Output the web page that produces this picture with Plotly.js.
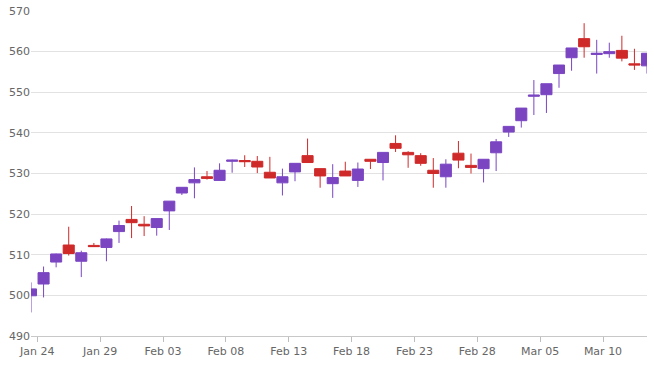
<!DOCTYPE html>
<html>
<head>
<meta charset="utf-8">
<script src="https://cdn.plot.ly/plotly-3.0.1.min.js"></script>
<style>html,body{margin:0;padding:0;background:#fff;}#chart{width:654px;height:369px;}</style>
</head>
<body>
<div id="chart"></div>
<script>
var dates = ["2017-01-23","2017-01-24","2017-01-25","2017-01-26","2017-01-27","2017-01-28","2017-01-29","2017-01-30","2017-01-31",
"2017-02-01","2017-02-02","2017-02-03","2017-02-04","2017-02-05","2017-02-06","2017-02-07","2017-02-08","2017-02-09","2017-02-10",
"2017-02-11","2017-02-12","2017-02-13","2017-02-14","2017-02-15","2017-02-16","2017-02-17","2017-02-18","2017-02-19","2017-02-20",
"2017-02-21","2017-02-22","2017-02-23","2017-02-24","2017-02-25","2017-02-26","2017-02-27","2017-02-28",
"2017-03-01","2017-03-02","2017-03-03","2017-03-04","2017-03-05","2017-03-06","2017-03-07","2017-03-08","2017-03-09","2017-03-10",
"2017-03-11","2017-03-12","2017-03-13"];
var openVals  = [499.9,502.8,508.2,512.4,508.4,512.3,511.8,515.7,518.7,517.5,516.7,520.8,525.2,527.7,529.2,528.3,533.0,533.2,533.0,530.3,
527.7,530.4,534.4,531.2,527.5,530.6,528.3,533.5,532.7,537.4,535.2,534.4,530.8,529.2,535.0,532.0,531.2,535.1,540.2,543.0,
549.0,549.4,554.6,558.5,563.2,559.3,559.5,560.3,557.0,556.5];
var highVals  = [503.2,507.1,510.3,516.9,511.0,512.9,514.0,518.4,522.0,519.5,519.0,523.2,526.6,531.5,530.6,532.5,533.4,534.5,534.3,534.1,
531.2,532.5,538.6,531.2,532.3,532.9,532.7,533.5,535.2,539.4,535.5,535.0,533.8,533.5,538.0,534.9,533.5,538.5,541.6,546.1,
553.0,552.1,556.7,560.9,567.0,562.9,562.2,563.9,560.7,559.6];
var lowVals   = [495.8,499.5,506.9,509.8,504.5,511.9,508.4,512.9,514.1,514.6,514.7,516.1,524.7,523.9,528.5,528.2,530.2,531.6,530.1,528.9,
524.6,528.1,532.7,526.5,524.0,529.4,526.7,531.1,528.3,535.3,531.4,531.9,526.5,526.5,531.3,530.0,527.8,530.6,539.0,541.3,
544.4,544.9,551.1,555.3,558.5,554.6,558.5,557.6,555.5,554.6];
var closeVals = [501.6,505.6,510.2,510.3,510.5,512.0,513.9,517.2,517.9,517.1,518.9,523.2,526.6,528.5,528.8,530.8,533.3,532.9,531.6,528.9,
529.2,532.5,532.7,529.4,529.0,529.4,531.1,533.0,535.2,536.2,534.6,532.5,530.0,532.3,533.3,531.5,533.5,537.8,541.6,546.1,
549.3,552.1,556.7,560.9,561.2,559.6,560.0,558.4,556.7,559.6];

var purple = "#7b45c2";
var red = "#cf2a2a";

var trace = {
  type: "candlestick",
  x: dates.map(function (d) { return d + " 12:00"; }),
  open: openVals, high: highVals, low: lowVals, close: closeVals,
  increasing: { line: { color: purple, width: 1 }, fillcolor: purple },
  decreasing: { line: { color: red, width: 1 }, fillcolor: red },
  whiskerwidth: 0,
  hoverinfo: "skip"
};

var tickFont = { family: "DejaVu Sans, Verdana, sans-serif", size: 11, color: "#666666" };

var layout = {
  width: 654, height: 369,
  margin: { l: 31, r: 7, t: 11, b: 33 },
  paper_bgcolor: "#ffffff", plot_bgcolor: "#ffffff",
  showlegend: false,
  boxgap: 0.12, boxgroupgap: 0,
  xaxis: {
    type: "date",
    range: ["2017-01-23 12:00", "2017-03-13 12:00"],
    tick0: "2017-01-24", dtick: 5 * 86400000,
    tickformat: "%b %d",
    ticks: "outside", ticklen: 5, tickcolor: "#bdbdbd",
    showline: true, linecolor: "#c8c8c8", linewidth: 1,
    showgrid: false, zeroline: false,
    rangeslider: { visible: false },
    tickfont: tickFont, fixedrange: true
  },
  yaxis: {
    range: [490, 570], dtick: 10, tick0: 490,
    showgrid: true, gridcolor: "#e2e2e2", gridwidth: 1,
    zeroline: false, showline: false, ticks: "",
    tickfont: tickFont, fixedrange: true
  }
};

Plotly.newPlot("chart", [trace], layout, { displayModeBar: false, staticPlot: true });
</script>
</body>
</html>
